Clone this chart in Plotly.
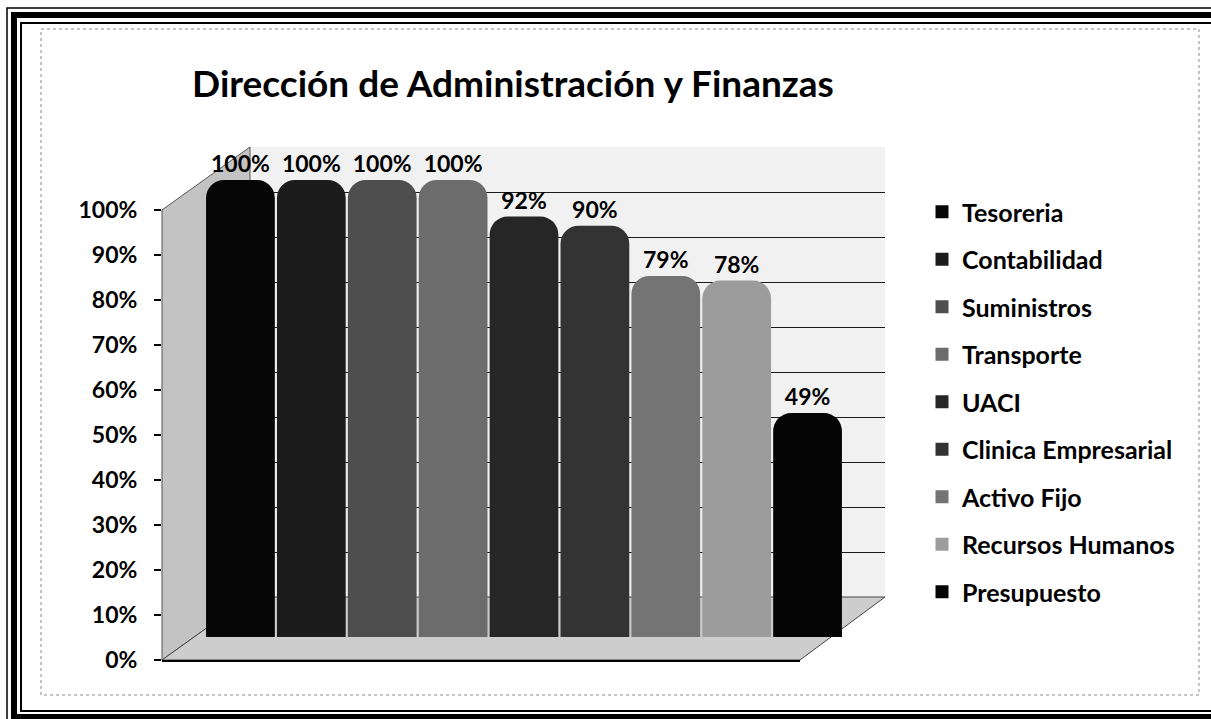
import plotly.graph_objects as go

# ---- data ----
categories = ["Tesoreria", "Contabilidad", "Suministros", "Transporte", "UACI",
              "Clinica Empresarial", "Activo Fijo", "Recursos Humanos", "Presupuesto"]
values = [1.00, 1.00, 1.00, 1.00, 0.92, 0.90, 0.79, 0.78, 0.49]
bar_colors = ["#060606", "#1c1c1c", "#4e4e4e", "#6c6c6c", "#262626",
              "#333333", "#747474", "#9c9c9c", "#050505"]
y_ticks = [i / 10 for i in range(11)]
title_text = "Dirección de Administración y Finanzas"

W, H = 1211, 719
FONT = "Lato"


def X(px):
    return px / W


def Y(py):
    return 1 - py / H


def path(points):
    pts = [f"{X(a):.5f},{Y(b):.5f}" for a, b in points]
    return "M" + " L".join(pts) + " Z"


fig = go.Figure()

for cat, val, col in zip(categories, values, bar_colors):
    fig.add_trace(go.Bar(
        x=[cat], y=[val], name=cat, legendgroup=cat, showlegend=False,
        marker=dict(color=col, line=dict(width=0)),
        text=[val], texttemplate="%{y:.0%}", textposition="outside",
        textfont=dict(family=FONT, size=23, color="black", weight="bold"),
        cliponaxis=False, xaxis="x3", yaxis="y3", hoverinfo="skip",
    ))
    # square legend entry
    fig.add_trace(go.Scatter(
        x=[None], y=[None], name=cat, legendgroup=cat, mode="markers",
        marker=dict(symbol="square", size=13, color=col, line=dict(width=0)),
        xaxis="x3", yaxis="y3", hoverinfo="skip",
    ))

# axis holders (empty traces so subplots render)
fig.add_trace(go.Scatter(x=[], y=[], xaxis="x", yaxis="y", showlegend=False, hoverinfo="skip"))
fig.add_trace(go.Scatter(x=[], y=[], xaxis="x2", yaxis="y2", showlegend=False, hoverinfo="skip"))

shapes = []
# frame
shapes.append(dict(type="rect", xref="paper", yref="paper", x0=X(7), y0=Y(8), x1=X(1232), y1=Y(735),
                   line=dict(color="black", width=1.5), layer="above"))
shapes.append(dict(type="rect", xref="paper", yref="paper", x0=X(14), y0=Y(15), x1=X(1225), y1=Y(717),
                   line=dict(color="black", width=6), layer="above"))
shapes.append(dict(type="rect", xref="paper", yref="paper", x0=X(21), y0=Y(23), x1=X(1218), y1=Y(711),
                   line=dict(color="black", width=2), layer="above"))
shapes.append(dict(type="rect", xref="paper", yref="paper", x0=X(41), y0=Y(29), x1=X(1199), y1=Y(695),
                   line=dict(color="#8a8a8a", width=1, dash="dot"), layer="above"))
# walls
shapes.append(dict(type="path", xref="paper", yref="paper",
                   path=path([(250, 147), (885, 147), (885, 597), (250, 597)]),
                   fillcolor="#f1f1f1", line=dict(width=0), layer="below"))
shapes.append(dict(type="path", xref="paper", yref="paper",
                   path=path([(162, 210), (250, 147), (250, 597), (162, 660)]),
                   fillcolor="#c3c3c3", line=dict(color="#555", width=1), layer="below"))
shapes.append(dict(type="path", xref="paper", yref="paper",
                   path=path([(162, 660), (800, 660), (885, 597), (250, 597)]),
                   fillcolor="#cdcdcd", line=dict(color="#444", width=1), layer="below"))

fig.update_layout(
    width=W, height=H, autosize=False,
    margin=dict(l=0, r=0, t=0, b=0, pad=0),
    paper_bgcolor="white", plot_bgcolor="rgba(0,0,0,0)",
    barmode="overlay", bargap=0.03,
    showlegend=True,
    title=dict(text=title_text, x=X(513), y=Y(84), xanchor="center", yanchor="middle",
               font=dict(family=FONT, size=37, color="black", weight="bold")),
    legend=dict(x=X(922), y=Y(189), xanchor="left", yanchor="top",
                font=dict(family=FONT, size=25, color="black", weight="bold"),
                traceorder="grouped", tracegroupgap=12, bgcolor="rgba(0,0,0,0)",
                itemwidth=30),
    shapes=shapes,
    # front axis with tick labels
    xaxis=dict(domain=[X(162), X(800)], anchor="y", range=[0, 1], showline=True,
               linecolor="black", linewidth=1.5, showgrid=False, zeroline=False,
               showticklabels=False, ticks="", fixedrange=True, automargin=False),
    yaxis=dict(domain=[Y(660), Y(210)], anchor="x", range=[0, 1], tickvals=y_ticks,
               tickformat=".0%", ticks="outside", ticklen=7, tickcolor="black", tickwidth=1.5,
               showline=False, showgrid=False, zeroline=False,
               tickfont=dict(family=FONT, size=23, color="black", weight="bold"),
               ticklabelstandoff=12, fixedrange=True, automargin=False),
    # back wall gridlines
    xaxis2=dict(domain=[X(250), X(885)], anchor="y2", range=[0, 1], visible=False,
                fixedrange=True, automargin=False),
    yaxis2=dict(domain=[Y(597), Y(147)], anchor="x2", range=[0, 1], tickvals=y_ticks,
                showgrid=True, gridcolor="#1a1a1a", gridwidth=1, showticklabels=False,
                ticks="", zeroline=False, showline=False, fixedrange=True, automargin=False),
    # bars
    xaxis3=dict(domain=[X(205), X(843)], anchor="y3", visible=False, fixedrange=True,
                categoryorder="array", categoryarray=categories, automargin=False),
    yaxis3=dict(domain=[Y(637), Y(180)], anchor="x3", range=[0, 1], visible=False,
                fixedrange=True, automargin=False),
    barcornerradius=18,
)

fig.write_html("out.html")
